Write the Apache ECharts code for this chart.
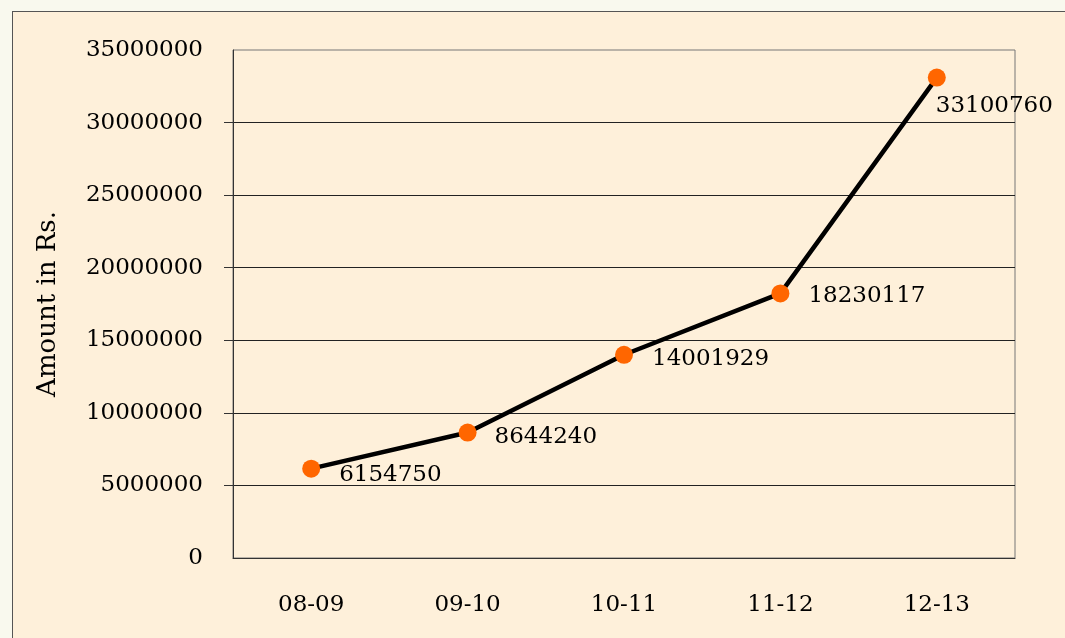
<!DOCTYPE html>
<html>
<head>
<meta charset="utf-8">
<script src="https://cdn.jsdelivr.net/npm/echarts@6/dist/echarts.min.js"></script>
<style>
  html, body { margin: 0; padding: 0; width: 1065px; height: 638px; overflow: hidden; background: #F9F9EE; }
  #frame { position: absolute; left: 12px; top: 11px; width: 1100px; height: 700px; background: #FEF0DA; border: 1px solid #555; }
  #chart { position: absolute; left: 0; top: 0; width: 1065px; height: 638px; }
</style>
</head>
<body>
<div id="frame"></div>
<div id="chart"></div>
<script>
// Yearly amounts (Rs.)
const years = ['08-09', '09-10', '10-11', '11-12', '12-13'];
const amounts = [6154750, 8644240, 14001929, 18230117, 33100760];
// inner y ticks (no tick marks at 0 or at the top edge)
const innerTicks = [5000000, 10000000, 15000000, 20000000, 25000000, 30000000];
// label offsets [dx, dy] from each point's right edge
const labelOffsets = [[19, 6], [18, 4], [19, 4], [19, 3], [-10, 28]];

const FONT = 'DejaVu Serif';
const chart = echarts.init(document.getElementById('chart'), null, { renderer: 'canvas' });

chart.setOption({
  backgroundColor: 'transparent',
  animation: false,
  grid: { left: 233, right: 50, top: 50, bottom: 80, show: true, borderColor: '#777', borderWidth: 1, backgroundColor: 'transparent' },
  xAxis: {
    type: 'category',
    data: years,
    boundaryGap: true,
    axisLine: { show: true, lineStyle: { color: '#333', width: 1 } },
    axisTick: { show: false },
    axisLabel: { color: '#000', fontFamily: FONT, fontSize: 23, margin: 36 }
  },
  yAxis: {
    type: 'value',
    min: 0,
    max: 35000000,
    interval: 5000000,
    name: 'Amount in Rs.',
    nameLocation: 'middle',
    nameGap: 172,
    nameRotate: 90,
    nameTextStyle: { color: '#000', fontFamily: FONT, fontSize: 26 },
    axisLine: { show: true, lineStyle: { color: '#333', width: 1 } },
    axisTick: { show: true, length: 9, customValues: innerTicks, lineStyle: { color: '#333' } },
    splitLine: { show: true, lineStyle: { color: '#222', width: 1 } },
    axisLabel: { color: '#000', fontFamily: FONT, fontSize: 23, margin: 30, formatter: v => String(v) }
  },
  series: [{
    type: 'line',
    data: amounts.map((v, i) => ({
      value: v,
      label: { offset: labelOffsets[i] }
    })),
    symbol: 'circle',
    symbolSize: 18,
    lineStyle: { color: '#000', width: 4.5 },
    itemStyle: { color: '#FF6600' },
    label: {
      show: true,
      position: 'right',
      align: 'left',
      verticalAlign: 'middle',
      distance: 0,
      color: '#000',
      fontFamily: FONT,
      fontSize: 23,
      formatter: p => String(p.value)
    },
    z: 3
  }]
});
</script>
</body>
</html>
